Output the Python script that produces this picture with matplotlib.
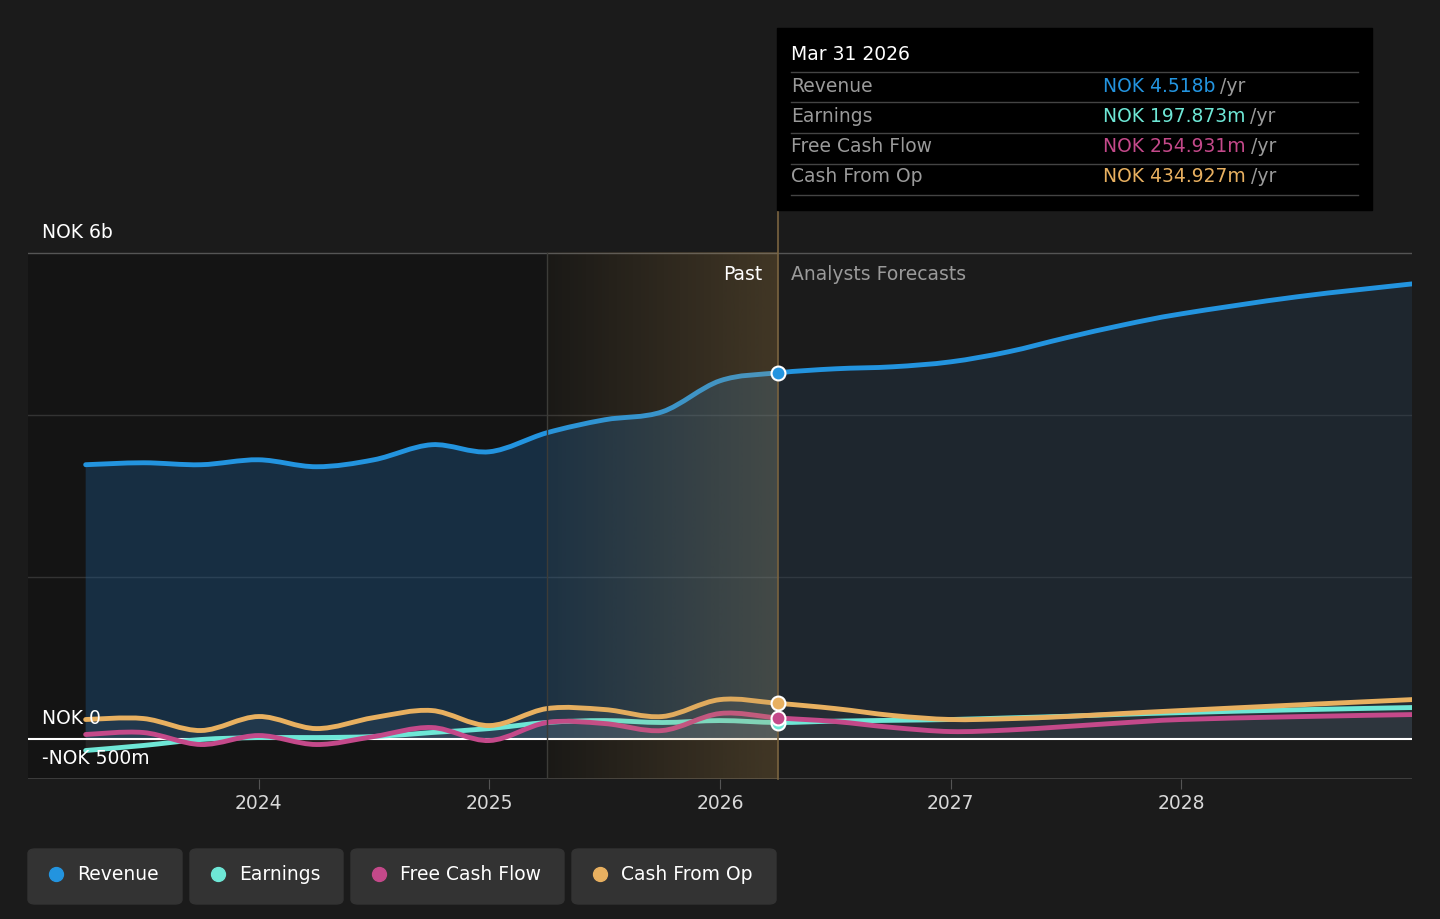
import numpy as np
import matplotlib.pyplot as plt
from matplotlib.patches import FancyBboxPatch, Rectangle, PathPatch
from matplotlib.lines import Line2D
from matplotlib.path import Path

# quarterly points, year fraction (Mar 31 2023 ... Dec 2028), values in NOK m
past_t = [2023.25, 2023.5, 2023.75, 2024.0, 2024.25, 2024.5, 2024.75, 2025.0,
          2025.25, 2025.5, 2025.75, 2026.0, 2026.25]
revenue_past = [3383, 3407, 3383, 3444, 3358, 3444, 3630, 3543, 3778, 3938, 4037, 4420, 4518]
earnings_past = [-148, -86, -12, 12, 12, 25, 74, 123, 198, 222, 198, 222, 198]
fcf_past = [50, 74, -74, 37, -74, 25, 136, -25, 198, 185, 99, 309, 255]
cfo_past = [235, 247, 99, 272, 123, 259, 346, 160, 370, 358, 272, 481, 435]

fc_t = [2026.25, 2026.5, 2026.75, 2027.0, 2027.25, 2027.5, 2027.75, 2028.0, 2028.5, 2029.0]
revenue_fc = [4518, 4568, 4593, 4654, 4778, 4951, 5111, 5247, 5457, 5617]
earnings_fc = [198, 215, 225, 235, 255, 275, 300, 320, 355, 383]
fcf_fc = [255, 210, 136, 86, 105, 148, 195, 235, 270, 296]
cfo_fc = [435, 370, 284, 235, 245, 272, 310, 346, 415, 481]

years = [2024, 2025, 2026, 2027, 2028]
names = ['Revenue', 'Earnings', 'Free Cash Flow', 'Cash From Op']
colors = ['#2394df', '#6ee7d6', '#c4498a', '#e8b060']
tip_values = ['NOK 4.518b', 'NOK 197.873m', 'NOK 254.931m', 'NOK 434.927m']
now = 2026.25

W, H = 1440, 919
fig = plt.figure(figsize=(W / 100, H / 100), dpi=100, facecolor='#1b1b1b')


def fx(x):
    return x / W


def fy(y):
    return 1 - y / H


def curve(t, v):
    # bezier segments through the points (catmull-rom style)
    pts = np.column_stack([t, v]).astype(float)
    n = len(pts)
    segs = []
    for i in range(n - 1):
        p0 = pts[max(i - 1, 0)]
        p1 = pts[i]
        p2 = pts[i + 1]
        p3 = pts[min(i + 2, n - 1)]
        segs.append((p1, p1 + (p2 - p0) / 6, p2 - (p3 - p1) / 6, p2))
    return segs


def seg_path(segs, base=False):
    verts = [segs[0][0]]
    codes = [Path.MOVETO]
    for s in segs:
        verts += [s[1], s[2], s[3]]
        codes += [Path.CURVE4] * 3
    if base:
        verts += [(segs[-1][3][0], 0), (segs[0][0][0], 0), (segs[0][0][0], 0)]
        codes += [Path.LINETO, Path.LINETO, Path.CLOSEPOLY]
    return Path(verts, codes)


ax = fig.add_axes([fx(28), fy(779), fx(1412) - fx(28), fy(210) - fy(779)])
ax.set_facecolor('#1b1b1b')
ax.set_xlim(2023.0, 2029.0)
ax.set_ylim(-500, 6530)
for s in ax.spines.values():
    s.set_visible(False)
ax.set_yticks([])
ax.set_xticks(years)
ax.set_xticklabels([str(y) for y in years], color='#d8d8d8', fontsize=13.5)
ax.tick_params(axis='x', length=7, color='#555555', pad=4)

# past region shading
ax.fill_between([2023.0, now], -500, 6000, color='#141414', zorder=0, lw=0)
grad = np.zeros((1, 256, 4))
grad[0, :, :3] = np.array([190, 150, 85]) / 255
grad[0, :, 3] = np.linspace(0.04, 0.27, 256)
ax.imshow(grad, extent=[2025.25, now, -500, 6000], aspect='auto', zorder=5, interpolation='bilinear')
ax.plot([2025.25, 2025.25], [-500, 6000], color='#3c3c38', lw=1, zorder=5)
ax.plot([now, now], [-500, 6530], color='#7a6440', lw=1.2, zorder=5, clip_on=False)

# grid
for v in [2000, 4000]:
    ax.axhline(v, color='#333333', lw=1, zorder=1)
ax.axhline(6000, color='#555555', lw=1, zorder=1)
ax.axhline(-500, color='#444444', lw=1.2, zorder=1)

pasts = [revenue_past, earnings_past, fcf_past, cfo_past]
fcs = [revenue_fc, earnings_fc, fcf_fc, cfo_fc]
npast = len(past_t) - 1
full_t = past_t + fc_t[1:]

for i in [1, 2, 3, 0]:
    segs = curve(full_t, pasts[i] + fcs[i][1:])
    sp, sf = segs[:npast], segs[npast:]
    if i == 0:
        ax.add_patch(PathPatch(seg_path(sp, True), fc='#1d5a8f', alpha=0.38, lw=0, zorder=2))
        ax.add_patch(PathPatch(seg_path(sf, True), fc='#2a4a6a', alpha=0.25, lw=0, zorder=2))
    else:
        ax.add_patch(PathPatch(seg_path(sp, True), fc='#9a9a9a', alpha=0.12, lw=0, zorder=2))
        ax.add_patch(PathPatch(seg_path(sf, True), fc='#9a9a9a', alpha=0.06, lw=0, zorder=2))

ax.axhline(0, color='#ffffff', lw=1.5, zorder=3)

for i in [1, 2, 3, 0]:
    segs = curve(full_t, pasts[i] + fcs[i][1:])
    ax.add_patch(PathPatch(seg_path(segs), fc='none', ec=colors[i], lw=3.5, zorder=4,
                           capstyle='round', joinstyle='round'))
for i in [1, 2, 3, 0]:
    ax.plot([now], [pasts[i][-1]], 'o', ms=10, color=colors[i], mec='white', mew=1.5, zorder=6)

# axis labels
fig.text(fx(42), fy(232), 'NOK 6b', color='white', fontsize=13.5, va='center')
fig.text(fx(42), fy(718), 'NOK 0', color='white', fontsize=13.5, va='center', zorder=10)
fig.text(fx(42), fy(758), '-NOK 500m', color='white', fontsize=13.5, va='center', zorder=10)
fig.text(fx(762), fy(274), 'Past', color='white', fontsize=13.5, va='center', ha='right', zorder=10)
fig.text(fx(791), fy(274), 'Analysts Forecasts', color='#9a9a9a', fontsize=13.5, va='center')

# tooltip
fig.patches.append(Rectangle((fx(777), fy(210)), fx(1372) - fx(777), fy(28) - fy(210),
                             transform=fig.transFigure, color='black', zorder=5))
fig.text(fx(791), fy(55), 'Mar 31 2026', color='white', fontsize=13.5, va='center', zorder=6)
rows_y = [86, 116, 147, 177]
for yy in [72, 102, 133, 164, 195]:
    fig.lines.append(Line2D([fx(791), fx(1358)], [fy(yy), fy(yy)], transform=fig.transFigure,
                            color='#444444', lw=1, zorder=6))
for i in range(4):
    fig.text(fx(791), fy(rows_y[i]), names[i], color='#9a9a9a', fontsize=13.5, va='center', zorder=6)
    t = fig.text(fx(1103), fy(rows_y[i]), tip_values[i], color=colors[i], fontsize=13.5, va='center', zorder=6)
    fig.canvas.draw()
    bb = t.get_window_extent()
    fig.text(bb.x1 / W + 5 / W, fy(rows_y[i]), '/yr', color='#9a9a9a', fontsize=13.5, va='center', zorder=6)

# legend buttons
boxes = [(28, 182), (190, 343), (351, 564), (572, 776)]
for i in range(4):
    x0, x1 = boxes[i]
    fig.patches.append(FancyBboxPatch((fx(x0), fy(904)), fx(x1) - fx(x0), fy(849) - fy(904),
                                      boxstyle='round,pad=0,rounding_size=0.005',
                                      transform=fig.transFigure, color='#333333', zorder=1))
    fig.lines.append(Line2D([fx(x0 + 28)], [fy(874)], marker='o', ms=10, color=colors[i],
                            transform=fig.transFigure, zorder=2))
    fig.text(fx(x0 + 49), fy(874), names[i], color='white', fontsize=13.5, va='center', zorder=2)

fig.savefig('out.png', dpi=100, facecolor=fig.get_facecolor())
